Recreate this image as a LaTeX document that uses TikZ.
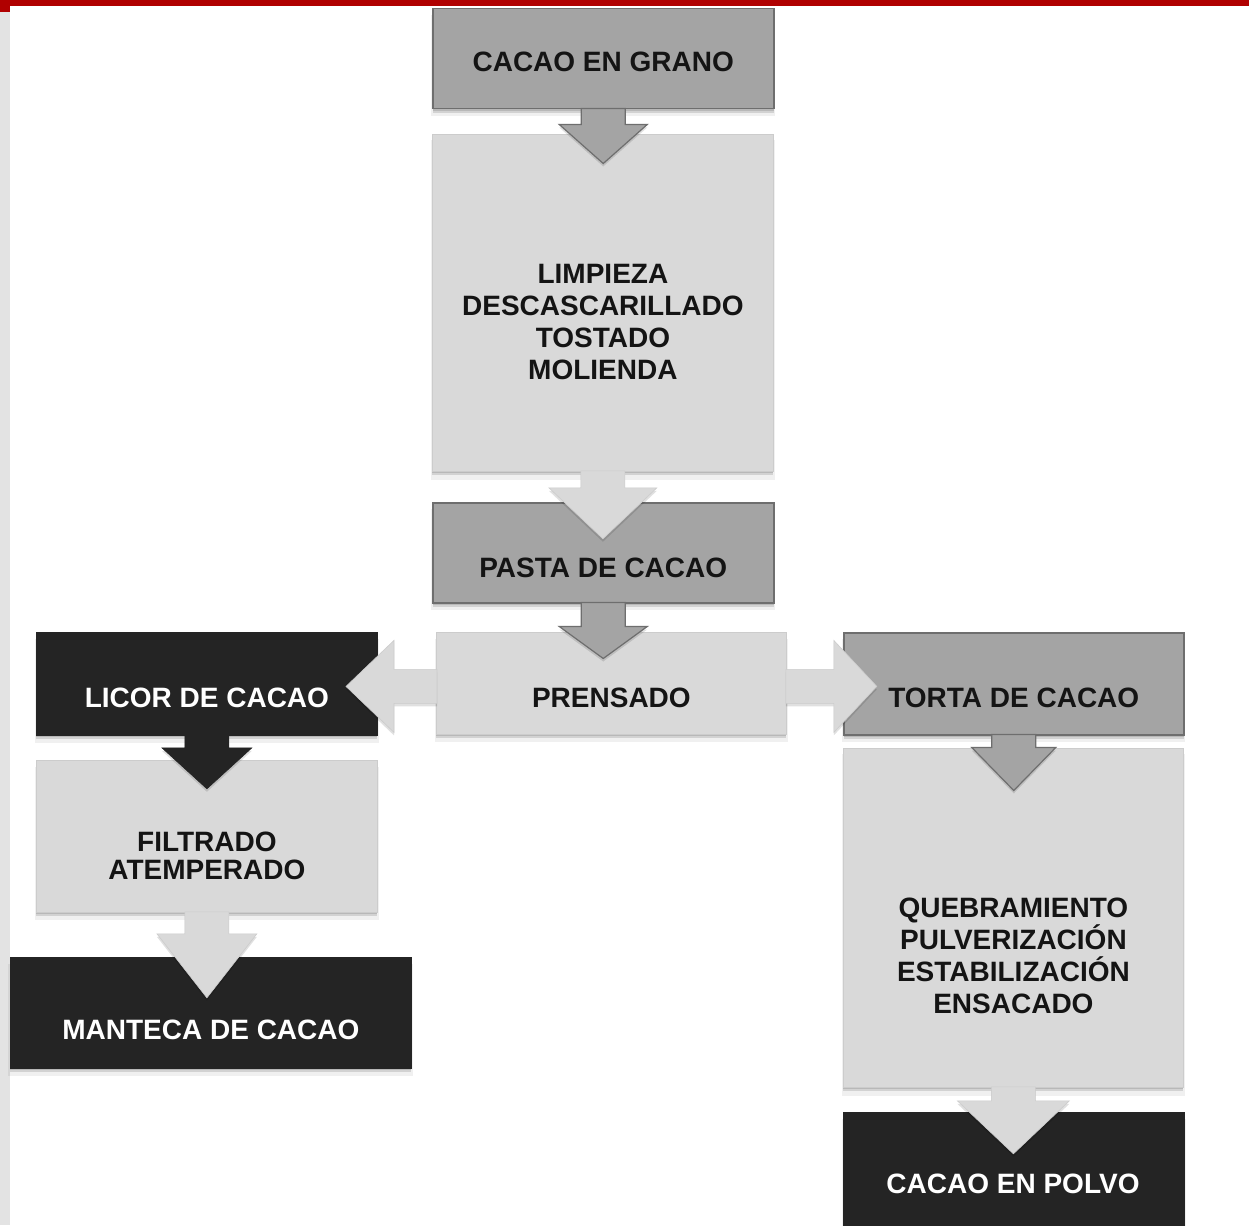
\documentclass[tikz,border=0pt]{standalone}
\usepackage{fontspec}
\setmainfont{Liberation Sans}
\usetikzlibrary{calc,shadows}
\definecolor{midg}{HTML}{A4A4A4}
\definecolor{midline}{HTML}{6E6E6E}
\definecolor{lightg}{HTML}{D9D9D9}
\definecolor{lightline}{HTML}{CCCCCC}
\definecolor{darkg}{HTML}{242424}
\definecolor{redbar}{HTML}{B00000}
\definecolor{stripg}{HTML}{E3E3E3}
\newcommand{\dnarrow}[5]{\filldraw[#1] (#2) +(-22,-1) -- +(-22,#4) -- +(-#3,#4) -- +(0,#5) -- +(#3,#4) -- +(22,#4) -- +(22,-1) -- cycle;}
\tikzset{
  boxbase/.style={rectangle, inner sep=0pt, anchor=north west,
    drop shadow={shadow xshift=0pt, shadow yshift=-7pt, opacity=0.06, fill=black, shadow scale=1.01},
    drop shadow={shadow xshift=0pt, shadow yshift=-4pt, opacity=0.12, fill=black},
    drop shadow={shadow xshift=0pt, shadow yshift=-2pt, opacity=0.12, fill=black}},
  midbox/.style={boxbase, fill=midg, draw=midline, line width=1.5pt},
  lightbox/.style={boxbase, fill=lightg, draw=lightline, line width=0.8pt},
  darkbox/.style={boxbase, fill=darkg, draw=darkg, line width=0.8pt},
  arrshadow/.style={drop shadow={shadow xshift=0pt, shadow yshift=-3pt, opacity=0.12, fill=black}},
  arrmid/.style={arrshadow, fill=midg, draw=midline, line width=1.2pt, line join=miter},
  arrlight/.style={arrshadow, fill=lightg, draw=lightline, line width=0.6pt, line join=miter},
  arrdark/.style={arrshadow, fill=darkg, draw=darkg, line width=0.6pt, line join=miter},
  txt/.style={inner sep=0pt, align=center, font=\bfseries\fontsize{28}{32}\selectfont},
  txtblack/.style={txt, text=black!92},
  txtwhite/.style={txt, text=white},
}
\begin{document}
\begin{tikzpicture}[x=1pt,y=-1pt]
\useasboundingbox (0,0) rectangle (1249,1225);
\fill[white] (0,0) rectangle (1249,1225);
% frame decorations
\fill[stripg] (0,12) rectangle (10,1225);
\fill[redbar] (0,0) rectangle (1249,6);
\fill[redbar] (0,0) rectangle (10,12);
% boxes
\node[midbox, minimum width=341pt, minimum height=100pt] (grano) at (432,8) {};
\node[lightbox, minimum width=341pt, minimum height=337pt] (limp) at (432,134) {};
\node[midbox, minimum width=341pt, minimum height=100pt] (pasta) at (432,502) {};
\node[lightbox, minimum width=350pt, minimum height=102pt] (prens) at (436,632) {};
\node[darkbox, minimum width=341pt, minimum height=103pt] (licor) at (36,632) {};
\node[lightbox, minimum width=341pt, minimum height=152pt] (filt) at (36,760) {};
\node[darkbox, minimum width=401pt, minimum height=111pt] (mant) at (10,957) {};
\node[midbox, minimum width=340pt, minimum height=102pt] (torta) at (843,632) {};
\node[lightbox, minimum width=340pt, minimum height=339pt] (queb) at (843,748) {};
\node[darkbox, minimum width=341pt, minimum height=130pt] (polvo) at (843,1112) {};
% block arrows
\dnarrow{arrmid}{grano.south}{44}{15}{54}
\dnarrow{arrlight}{limp.south}{54}{16}{67}
\dnarrow{arrmid}{pasta.south}{44}{23}{55}
\dnarrow{arrdark}{licor.south}{45}{12}{53}
\dnarrow{arrlight}{filt.south}{50}{21}{85}
\dnarrow{arrmid}{torta.south}{42}{12}{55}
\dnarrow{arrlight}{queb.south}{56}{13}{66}
\filldraw[arrlight] (prens.west) ++(1,3) +(0,-17) -- +(-43,-17) -- +(-43,-46) -- +(-91,0) -- +(-43,46) -- +(-43,17) -- +(0,17) -- cycle;
\filldraw[arrlight] (prens.east) ++(-1,3) +(0,-17) -- +(48,-17) -- +(48,-46) -- +(91,0) -- +(48,46) -- +(48,17) -- +(0,17) -- cycle;
% texts
\node[txtblack] (tgrano) at ($(grano.center)+(0,3)$) {CACAO EN GRANO};
\node[txtblack] (tlimp) at ($(limp.center)+(0,19)$) {LIMPIEZA\\DESCASCARILLADO\\TOSTADO\\MOLIENDA};
\node[txtblack] (tpasta) at ($(pasta.center)+(0,15)$) {PASTA DE CACAO};
\node[txtblack] (tprens) at ($(prens.center)+(0,14)$) {PRENSADO};
\node[txtwhite] (tlicor) at ($(licor.center)+(0,14)$) {LICOR DE CACAO};
\node[txtblack, font=\bfseries\fontsize{28}{28}\selectfont] (tfilt) at ($(filt.center)+(0,19)$) {FILTRADO\\ATEMPERADO};
\node[txtwhite] (tmant) at ($(mant.center)+(0,17)$) {MANTECA DE CACAO};
\node[txtblack] (ttorta) at ($(torta.center)+(0,14)$) {TORTA DE CACAO};
\node[txtblack] (tqueb) at ($(queb.center)+(0,38)$) {QUEBRAMIENTO\\PULVERIZACIÓN\\ESTABILIZACIÓN\\ENSACADO};
\node[txtwhite] (tpolvo) at (1013,1184) {CACAO EN POLVO};
\end{tikzpicture}
\end{document}
